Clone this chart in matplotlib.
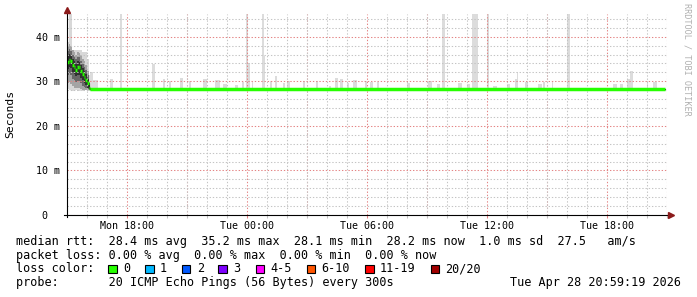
import numpy as np
import matplotlib
matplotlib.use("Agg")
import matplotlib.pyplot as plt
from matplotlib.patches import Rectangle
from matplotlib.ticker import MultipleLocator, FixedLocator

W, H = 697, 297
MONO = "DejaVu Sans Mono"
plt.rcParams["font.family"] = MONO

# time axis: hours since Mon 15:00
x_end = 30.0
major_hours = [3, 9, 15, 21, 27]
major_labels = ["Mon 18:00", "Tue 00:00", "Tue 06:00", "Tue 12:00", "Tue 18:00"]
y_ticks = [0, 10, 20, 30, 40]
y_labels = ["0  ", "10 m", "20 m", "30 m", "40 m"]

# first hour of samples (5 minute steps), values in ms
init_hours = [0.0, 0.083, 0.167, 0.25, 0.333, 0.417, 0.5, 0.583, 0.667, 0.75, 0.833, 0.917, 1.0, 1.083]
init_median = [34.4, 34.8, 34.5, 33.7, 33.2, 32.6, 33.1, 33.1, 32.3, 31.6, 31.0, 30.3, 29.5, 28.6]
init_min = [28.2, 28.0, 28.0, 27.9, 27.9, 28.0, 27.9, 27.9, 28.0, 27.9, 27.9, 28.0, 27.9, 27.9]
init_max = [38.7, 46.0, 46.0, 37.1, 37.1, 37.1, 37.1, 37.1, 37.1, 36.6, 36.6, 36.6, 34.9, 31.5]
band1_lo = [29.6, 29.8, 29.4, 28.9, 28.6, 28.4, 28.5, 28.5, 28.2, 28.1, 28.0, 28.0, 28.0, 28.0]
band1_hi = [38.0, 38.4, 38.0, 37.0, 36.6, 36.0, 36.6, 36.4, 35.8, 35.0, 34.5, 33.6, 32.4, 29.8]
band2_lo = [31.4, 31.8, 31.4, 30.6, 30.2, 29.8, 30.1, 30.1, 29.5, 29.0, 28.7, 28.4, 28.2, 28.0]
band2_hi = [36.9, 37.3, 36.9, 36.0, 35.5, 34.9, 35.5, 35.4, 34.6, 33.9, 33.3, 32.6, 31.5, 29.4]
band3_lo = [32.8, 33.2, 32.9, 32.1, 31.6, 31.1, 31.5, 31.5, 30.8, 30.2, 29.6, 29.1, 28.5, 28.2]
band3_hi = [35.8, 36.2, 35.9, 35.0, 34.5, 33.9, 34.5, 34.4, 33.6, 32.9, 32.3, 31.6, 30.6, 29.1]

# rest of the period: flat median
steady_start = 1.167
steady_end = 29.9
steady_median = 28.2
steady_lo = 27.9
steady_hi = 28.6

# light smoke spikes (start hour, end hour, top ms)
spike_start = [1.15, 1.30, 2.15, 2.65, 4.25, 4.80, 5.10, 5.65, 6.10, 6.80, 7.40, 7.80, 8.40, 8.75,
               8.95, 9.03, 9.25, 9.75, 9.83, 10.15, 10.40, 10.80, 11.00, 11.80, 12.45, 13.10, 13.40,
               13.65, 14.00, 14.30, 14.90, 15.15, 15.50, 17.00, 18.05, 18.50, 18.75, 19.55, 20.00,
               20.25, 21.00, 21.30, 22.00, 22.40, 22.50, 22.90, 23.55, 23.80, 24.25, 25.00, 27.30,
               27.65, 28.00, 28.15, 29.00, 29.30]
spike_end = [1.30, 1.55, 2.30, 2.75, 4.40, 4.90, 5.20, 5.80, 6.20, 7.00, 7.65, 8.00, 8.55, 8.85,
             9.03, 9.15, 9.30, 9.83, 9.90, 10.25, 10.50, 10.90, 11.15, 11.90, 12.55, 13.20, 13.55,
             13.80, 14.10, 14.50, 15.00, 15.30, 15.60, 17.15, 18.25, 18.65, 18.90, 19.75, 20.15,
             20.55, 21.10, 21.50, 22.15, 22.50, 22.55, 23.05, 23.75, 23.90, 24.30, 25.15, 27.50,
             27.80, 28.15, 28.30, 29.05, 29.50]
spike_top = [32.0, 30.3, 30.4, 46.0, 33.8, 30.4, 30.0, 30.7, 30.0, 30.4, 30.2, 29.3, 29.2, 29.8,
             46.0, 34.2, 29.9, 46.0, 35.6, 30.0, 31.2, 29.5, 30.0, 30.0, 30.0, 29.0, 30.7,
             30.5, 29.7, 30.3, 30.0, 29.8, 29.8, 29.5, 30.0, 29.3, 46.0, 29.6, 29.3,
             46.0, 46.0, 29.0, 29.3, 30.4, 32.0, 29.8, 29.3, 29.8, 29.8, 46.0, 29.3,
             29.3, 30.4, 32.3, 30.0, 29.8]

loss_labels = ["0", "1", "2", "3", "4-5", "6-10", "11-19", "20/20"]
loss_colors = ["#26ff00", "#00b8ff", "#0059ff", "#7e00ff", "#ff00ff", "#ff5500", "#ff0000", "#a10000"]
loss_label_x = [123.3, 160.0, 196.7, 233.3, 270.7, 321.7, 380.0, 445.5]

rtt_line = "median rtt:  28.4 ms avg  35.2 ms max  28.1 ms min  28.2 ms now  1.0 ms sd  27.5   am/s"
loss_line = "packet loss: 0.00 % avg  0.00 % max  0.00 % min  0.00 % now"
probe_line = "probe:       20 ICMP Echo Pings (56 Bytes) every 300s"
stamp_text = "Tue Apr 28 20:59:19 2026"

GRID_MINOR = "#c4c4c4"
GRID_MAJOR = "#e48484"
DOTS = (0, (1.3, 1.8))


def ftext(x, y, s, **kw):
    kw.setdefault("fontsize", 8.45)
    kw.setdefault("va", "center")
    return fig.text(x / W, 1 - y / H, s, **kw)


fig = plt.figure(figsize=(W / 100, H / 100), dpi=100, facecolor="white")
ax = fig.add_axes([67 / W, (H - 215) / H, 600 / W, 200.6 / H])
ax.set_xlim(0, x_end)
ax.set_ylim(0, 45)

# smoke
step = 1 / 12
smoke = [(init_min, init_max, "#d8d8d8"), (band1_lo, band1_hi, "#a4a4a4"),
         (band2_lo, band2_hi, "#686868"), (band3_lo, band3_hi, "#303030")]
for lo, hi, col in smoke:
    lo = np.array(lo)
    hi = np.array(hi)
    ax.bar(init_hours, hi - lo, bottom=lo, width=step, align="edge", color=col, lw=0, zorder=1)

ax.bar([steady_start], [steady_hi - steady_lo], bottom=steady_lo, width=steady_end - steady_start,
       align="edge", color="#dcdcdc", lw=0, zorder=1)
s0 = np.array(spike_start)
s1 = np.array(spike_end)
ax.bar(s0, np.array(spike_top) - steady_lo, bottom=steady_lo, width=s1 - s0, align="edge",
       color="#dcdcdc", lw=0, zorder=1)

# median
med_h = init_hours + [steady_start]
med_v = init_median + [steady_median]
med_next = init_hours[1:] + [steady_start, steady_end]
ax.step(med_h + [steady_end], med_v + [steady_median], where="post", color="#202020", lw=0.8, zorder=3)
ax.hlines(med_v, med_h, med_next, color="#26ff00", lw=2.5, zorder=4)

# grid: gray every hour / 2 ms, red every 3 hours / 10 ms
ax.xaxis.set_major_locator(FixedLocator(major_hours))
ax.set_xticklabels(major_labels)
ax.xaxis.set_minor_locator(FixedLocator([h for h in range(1, 31) if h not in major_hours]))
ax.yaxis.set_major_locator(FixedLocator(y_ticks))
ax.set_yticklabels(y_labels)
ax.yaxis.set_minor_locator(MultipleLocator(2))
ax.set_axisbelow(False)
ax.grid(which="minor", color=GRID_MINOR, lw=0.75, ls=DOTS)
ax.grid(which="major", color=GRID_MAJOR, lw=0.75, ls=DOTS)
for h in range(6, 31, 6):
    ax.axvline(h, color=GRID_MAJOR, lw=0.75, ls=DOTS, zorder=2.5)
    ax.axvline(h, ymin=-0.012, ymax=0, color=GRID_MAJOR, lw=0.75, clip_on=False)

ax.tick_params(axis="x", which="major", length=2, width=0.75, color=GRID_MAJOR, pad=2.5, labelsize=7.2)
ax.tick_params(axis="x", which="minor", length=2, width=0.75, color=GRID_MINOR)
ax.tick_params(axis="y", which="both", length=0, pad=5, labelsize=7.2)

for side in ["top", "right", "left", "bottom"]:
    ax.spines[side].set_visible(False)
ax.plot([0, 0], [-0.5, 45.5], color="black", lw=0.8, clip_on=False, zorder=5)
ax.plot([-0.15, 30.1], [0, 0], color="black", lw=0.8, clip_on=False, zorder=5)
ax.plot([0], [46.0], marker="^", ms=4, color="#8b1a1a", clip_on=False, zorder=6)
ax.plot([30.2], [0], marker=">", ms=4, color="#8b1a1a", clip_on=False, zorder=6)

# labels around the plot
ftext(10.5, 113.5, "Seconds", rotation=90, ha="center", fontsize=8.2)
ftext(687.5, 59, "RRDTOOL / TOBI OETIKER", rotation=270, ha="center", fontsize=6.1, color="#b0b0b0")

ftext(15.6, 241.5, rtt_line)
ftext(15.6, 255.0, loss_line)
ftext(15.6, 268.5, "loss color:")
for lab, col, x in zip(loss_labels, loss_colors, loss_label_x):
    fig.add_artist(Rectangle(((x - 15) / W, 1 - 273 / H), 8.5 / W, 8.5 / H, transform=fig.transFigure,
                             facecolor=col, edgecolor="black", lw=0.8))
    ftext(x, 268.5, lab)
ftext(15.6, 282.5, probe_line)
ftext(681, 282.5, stamp_text, ha="right")

fig.savefig("out.png", dpi=100, facecolor="white")
